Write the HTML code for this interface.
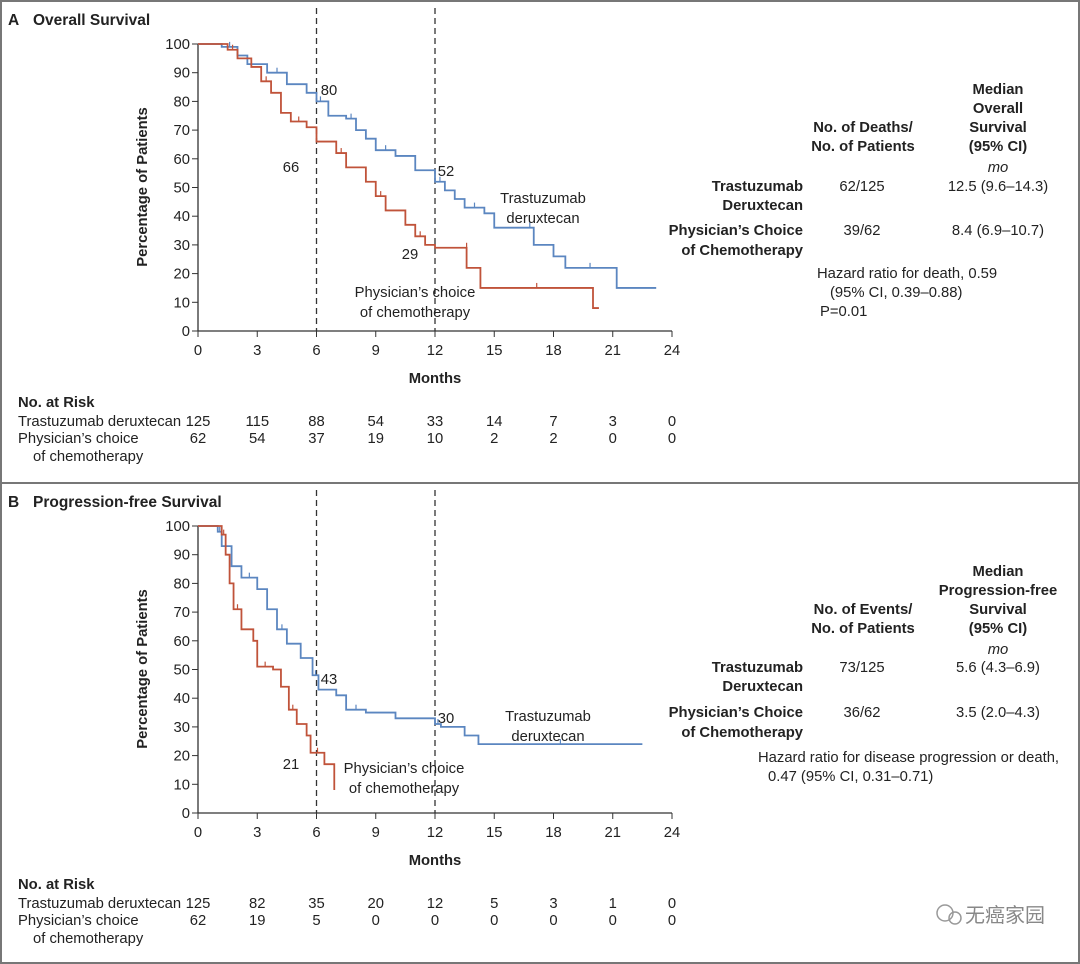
<!DOCTYPE html><html><head><meta charset="utf-8"><style>
body{margin:0;background:#fff}
svg{display:block;font-family:"Liberation Sans","Noto Sans CJK SC",sans-serif;font-size:14.8px;fill:#222}
.b{font-weight:bold}.m{text-anchor:middle}.e{text-anchor:end}
</style></head><body>
<svg id="s" width="1080" height="964" viewBox="0 0 1080 964">
<rect x="1" y="1" width="1078" height="962" fill="none" stroke="#777" stroke-width="2"/>
<line x1="0" y1="483" x2="1080" y2="483" stroke="#777" stroke-width="2"/>
<text x="8" y="25" class="b" font-size="15.5">A</text><text x="33" y="25" class="b" font-size="15.5">Overall Survival</text>
<text x="8" y="507" class="b" font-size="15.5">B</text><text x="33" y="507" class="b" font-size="15.5">Progression-free Survival</text>
<g id="axA"></g><g id="axB"></g>
<text class="b m" transform="translate(147,187) rotate(-90)">Percentage of Patients</text>
<text class="b m" transform="translate(147,669) rotate(-90)">Percentage of Patients</text>
<text x="435" y="383" class="b m">Months</text><text x="435" y="865" class="b m">Months</text>
<g class="m">
<text x="329" y="95">80</text><text x="291" y="172">66</text><text x="446" y="176">52</text><text x="410" y="259">29</text>
<text x="543" y="203">Trastuzumab</text><text x="543" y="223">deruxtecan</text>
<text x="415" y="297">Physician’s choice</text><text x="415" y="317">of chemotherapy</text>
<text x="329" y="684">43</text><text x="291" y="769">21</text><text x="446" y="723">30</text>
<text x="548" y="721">Trastuzumab</text><text x="548" y="741">deruxtecan</text>
<text x="404" y="773">Physician’s choice</text><text x="404" y="793">of chemotherapy</text>
</g>
<g class="b m">
<text x="998" y="94">Median</text><text x="998" y="113">Overall</text><text x="998" y="132">Survival</text><text x="998" y="151">(95% CI)</text>
<text x="863" y="132">No. of Deaths/</text><text x="863" y="151">No. of Patients</text>
<text x="998" y="576">Median</text><text x="998" y="595">Progression-free</text><text x="998" y="614">Survival</text><text x="998" y="633">(95% CI)</text>
<text x="863" y="614">No. of Events/</text><text x="863" y="633">No. of Patients</text>
</g>
<g class="b e">
<text x="803" y="191">Trastuzumab</text><text x="803" y="210">Deruxtecan</text>
<text x="803" y="235">Physician’s Choice</text><text x="803" y="255">of Chemotherapy</text>
<text x="803" y="672">Trastuzumab</text><text x="803" y="691">Deruxtecan</text>
<text x="803" y="717">Physician’s Choice</text><text x="803" y="737">of Chemotherapy</text>
</g>
<g class="m">
<text x="998" y="172" font-style="italic">mo</text>
<text x="862" y="191">62/125</text><text x="998" y="191">12.5 (9.6–14.3)</text>
<text x="862" y="235">39/62</text><text x="998" y="235">8.4 (6.9–10.7)</text>
<text x="998" y="654" font-style="italic">mo</text>
<text x="862" y="672">73/125</text><text x="998" y="672">5.6 (4.3–6.9)</text>
<text x="862" y="717">36/62</text><text x="998" y="717">3.5 (2.0–4.3)</text>
</g>
<text x="817" y="278">Hazard ratio for death, 0.59</text>
<text x="830" y="297">(95% CI, 0.39–0.88)</text>
<text x="820" y="316">P=0.01</text>
<text x="758" y="762">Hazard ratio for disease progression or death,</text>
<text x="768" y="781">0.47 (95% CI, 0.31–0.71)</text>
<text x="18" y="407" class="b">No. at Risk</text>
<text x="18" y="426">Trastuzumab deruxtecan</text><text x="18" y="443">Physician’s choice</text><text x="33" y="461">of chemotherapy</text>
<text x="18" y="889" class="b">No. at Risk</text>
<text x="18" y="908">Trastuzumab deruxtecan</text><text x="18" y="925">Physician’s choice</text><text x="33" y="943">of chemotherapy</text>
<g id="risk" class="m"></g>
<text x="1045" y="922" class="e" font-size="20" fill="#888">无癌家园</text>
<circle cx="945" cy="913" r="8" fill="none" stroke="#999" stroke-width="1.5"/><circle cx="955" cy="918" r="6" fill="none" stroke="#999" stroke-width="1.5"/>
</svg>
<script>
var NS="http://www.w3.org/2000/svg",s=document.getElementById('s');
function el(t,a,p,txt){var e=document.createElementNS(NS,t);for(var k in a)e.setAttribute(k,a[k]);if(txt!=null)e.textContent=txt;(p||s).appendChild(e);return e;}
var X=m=>198+m*19.75;
function axis(g,y0){g=document.getElementById(g);var Y=p=>y0-2.87*p;
el('line',{x1:198,y1:Y(100),x2:198,y2:y0,stroke:'#333','stroke-width':1.3},g);
el('line',{x1:198,y1:y0,x2:672,y2:y0,stroke:'#333','stroke-width':1.3},g);
for(var p=0;p<=100;p+=10){el('line',{x1:192,y1:Y(p),x2:198,y2:Y(p),stroke:'#333'},g);el('text',{x:190,y:Y(p)+5,'class':'e'},g,p);}
for(var m=0;m<=24;m+=3){el('line',{x1:X(m),y1:y0,x2:X(m),y2:y0+6,stroke:'#333'},g);el('text',{x:X(m),y:y0+24,'class':'m'},g,m);}
[6,12].forEach(m=>el('line',{x1:X(m),y1:y0-323,x2:X(m),y2:y0,stroke:'#333','stroke-dasharray':'6,4','stroke-width':1.3},g));
return Y;}
var YA=axis('axA',331),YB=axis('axB',813);
function curve(pts,Y,c){var d='M'+X(pts[0][0])+','+Y(pts[0][1]);
for(var i=1;i<pts.length;i++){d+=' H'+X(pts[i][0])+' V'+Y(pts[i][1]);}
el('path',{d:d,fill:'none',stroke:c,'stroke-width':1.8});
for(var i=1;i<pts.length-1;i+=3){var x=(X(pts[i][0])+X(pts[i+1][0]))/2;el('line',{x1:x,y1:Y(pts[i][1]),x2:x,y2:Y(pts[i][1])-5,stroke:c,'stroke-width':1.2});}}
var bl='#5b86c0',rd='#c0533a';
curve([[0,100],[1.2,99],[2,96],[2.5,93],[3.5,90],[4.5,86],[5.5,83],[6,80],[6.4,80],[6.6,75],[7.5,74],[8,70],[8.5,67],[9,63],[10,61],[11,56],[12,52],[12.5,49],[13,46],[13.5,43],[14.5,41],[15,36],[16.6,36],[17,30],[18,26],[18.6,22],[21.1,22],[21.2,15],[23.2,15]],YA,bl);
curve([[0,100],[1.5,98],[2,95],[2.7,92],[3.2,87],[3.7,83],[4.2,76],[4.7,73],[5.5,71],[6,66],[7,62],[7.5,57],[8.5,52],[9,47],[9.5,42],[10.5,37],[11,33],[11.5,30],[12,29],[13.6,29],[13.6,22],[14.3,22],[14.3,15],[20,15],[20,8],[20.3,8]],YA,rd);
curve([[0,100],[1,98],[1.2,93],[1.7,86],[2.2,82],[3,78],[3.5,71],[4,64],[4.5,59],[5.2,54],[5.8,48],[6.1,43],[7,41],[7.5,36],[8.5,35],[10,33],[12,31],[12.3,30],[13.5,27],[14.2,24],[22.5,24]],YB,bl);
curve([[0,100],[1.2,97],[1.4,90],[1.6,80],[1.8,71],[2.2,64],[2.8,60],[3,51],[3.8,50],[4.2,44],[4.6,36],[5,31],[5.5,27],[5.7,21],[6.4,17],[6.9,12],[6.9,8]],YB,rd);
var r=document.getElementById('risk');
[[426,[125,115,88,54,33,14,7,3,0]],[443,[62,54,37,19,10,2,2,0,0]],[908,[125,82,35,20,12,5,3,1,0]],[925,[62,19,5,0,0,0,0,0,0]]].forEach(function(row){row[1].forEach((v,i)=>el('text',{x:X(i*3),y:row[0],'class':'m'},r,v));});
</script>
</body></html>
